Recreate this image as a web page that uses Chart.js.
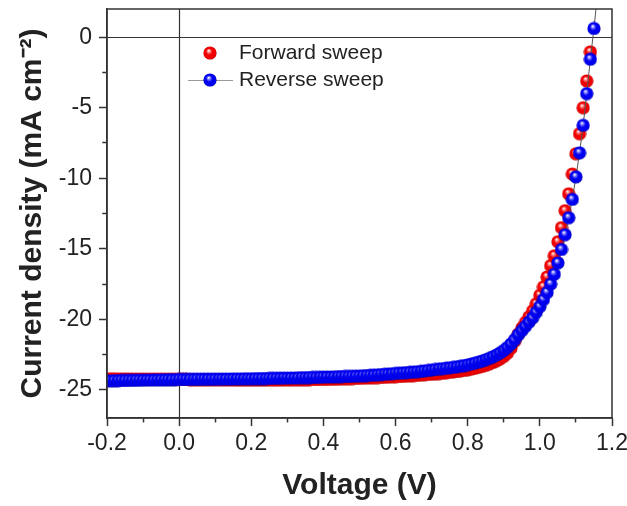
<!DOCTYPE html>
<html>
<head>
<meta charset="utf-8">
<script src="https://cdn.jsdelivr.net/npm/chart.js@4.4.1/dist/chart.umd.min.js"></script>
<style>
  html, body { margin: 0; padding: 0; background: #fff; }
  #wrap { width: 627px; height: 506px; }
</style>
</head>
<body>
<div id="wrap"><canvas id="jvChart" width="627" height="506"></canvas></div>
<script>
// Voltage grid (V)
const voltage = [
  -0.20, -0.19, -0.18, -0.17, -0.16, -0.15, -0.14, -0.13, -0.12, -0.11,
  -0.10, -0.09, -0.08, -0.07, -0.06, -0.05, -0.04, -0.03, -0.02, -0.01,
  0.00, 0.01, 0.02, 0.03, 0.04, 0.05, 0.06, 0.07, 0.08, 0.09,
  0.10, 0.11, 0.12, 0.13, 0.14, 0.15, 0.16, 0.17, 0.18, 0.19,
  0.20, 0.21, 0.22, 0.23, 0.24, 0.25, 0.26, 0.27, 0.28, 0.29,
  0.30, 0.31, 0.32, 0.33, 0.34, 0.35, 0.36, 0.37, 0.38, 0.39,
  0.40, 0.41, 0.42, 0.43, 0.44, 0.45, 0.46, 0.47, 0.48, 0.49,
  0.50, 0.51, 0.52, 0.53, 0.54, 0.55, 0.56, 0.57, 0.58, 0.59,
  0.60, 0.61, 0.62, 0.63, 0.64, 0.65, 0.66, 0.67, 0.68, 0.69,
  0.70, 0.71, 0.72, 0.73, 0.74, 0.75, 0.76, 0.77, 0.78, 0.79,
  0.80, 0.81, 0.82, 0.83, 0.84, 0.85, 0.86, 0.87, 0.88, 0.89,
  0.90, 0.91, 0.92, 0.93, 0.94, 0.95, 0.96, 0.97, 0.98, 0.99,
  1.00, 1.01, 1.02, 1.03, 1.04, 1.05, 1.06, 1.07, 1.08, 1.09,
  1.10, 1.11, 1.12, 1.13, 1.14, 1.15, 1.16
];

// Forward sweep current density (mA cm-2)
const forwardJ = [
  -24.22, -24.22, -24.22, -24.23, -24.23, -24.23, -24.23, -24.24, -24.24, -24.24,
  -24.24, -24.25, -24.25, -24.25, -24.25, -24.26, -24.26, -24.26, -24.26, -24.27,
  -24.27, -24.27, -24.27, -24.28, -24.28, -24.28, -24.28, -24.29, -24.29, -24.29,
  -24.29, -24.30, -24.30, -24.30, -24.30, -24.30, -24.31, -24.31, -24.31, -24.31,
  -24.31, -24.31, -24.31, -24.31, -24.31, -24.31, -24.31, -24.31, -24.30, -24.30,
  -24.30, -24.30, -24.29, -24.29, -24.29, -24.28, -24.28, -24.27, -24.27, -24.26,
  -24.26, -24.26, -24.25, -24.25, -24.24, -24.23, -24.22, -24.21, -24.20, -24.19,
  -24.18, -24.17, -24.16, -24.15, -24.14, -24.13, -24.12, -24.11, -24.09, -24.08,
  -24.06, -24.05, -24.04, -24.02, -24.01, -23.99, -23.97, -23.95, -23.93, -23.91,
  -23.89, -23.87, -23.85, -23.82, -23.79, -23.76, -23.73, -23.70, -23.66, -23.62,
  -23.58, -23.53, -23.47, -23.41, -23.34, -23.26, -23.17, -23.06, -22.94, -22.80,
  -22.63, -22.40, -22.05, -21.55, -21.05, -20.62, -20.22, -19.82, -19.40, -18.90,
  -18.30, -17.70, -17.00, -16.20, -15.50, -14.50, -13.50, -12.30, -11.10, -9.70,
  -8.26, -6.84, -5.00, -3.10, -1.04, null, null
];

// Reverse sweep current density (mA cm-2)
const reverseJ = [
  -24.36, -24.36, -24.35, -24.35, -24.34, -24.34, -24.33, -24.33, -24.32, -24.32,
  -24.31, -24.31, -24.30, -24.30, -24.30, -24.29, -24.29, -24.28, -24.28, -24.28,
  -24.27, -24.27, -24.27, -24.26, -24.26, -24.26, -24.26, -24.25, -24.25, -24.25,
  -24.25, -24.25, -24.24, -24.24, -24.24, -24.23, -24.23, -24.23, -24.22, -24.22,
  -24.22, -24.21, -24.21, -24.20, -24.20, -24.19, -24.19, -24.18, -24.18, -24.17,
  -24.17, -24.16, -24.16, -24.15, -24.14, -24.14, -24.13, -24.12, -24.12, -24.11,
  -24.10, -24.09, -24.09, -24.08, -24.07, -24.06, -24.05, -24.05, -24.04, -24.03,
  -24.02, -24.00, -23.99, -23.97, -23.96, -23.94, -23.92, -23.90, -23.88, -23.86,
  -23.84, -23.82, -23.80, -23.78, -23.76, -23.74, -23.72, -23.69, -23.66, -23.63,
  -23.60, -23.56, -23.53, -23.50, -23.47, -23.44, -23.41, -23.37, -23.33, -23.28,
  -23.23, -23.17, -23.11, -23.04, -22.96, -22.87, -22.77, -22.66, -22.53, -22.38,
  -22.21, -22.00, -21.75, -21.45, -21.10, -20.80, -20.50, -20.20, -19.90, -19.50,
  -19.10, -18.60, -18.10, -17.50, -16.80, -16.00, -15.05, -14.00, -12.80, -11.50,
  -9.90, -8.20, -6.25, -4.00, -1.56, 0.62, 3.10
];

const xMajorTicks = [-0.2, 0.0, 0.2, 0.4, 0.6, 0.8, 1.0, 1.2];
const xMinorTicks = [-0.1, 0.1, 0.3, 0.5, 0.7, 0.9, 1.1];
const xTickLabels = ['-0.2', '0.0', '0.2', '0.4', '0.6', '0.8', '1.0', '1.2'];
const yMajorTicks = [-25, -20, -15, -10, -5, 0];
const yMinorTicks = [-22.5, -17.5, -12.5, -7.5, -2.5];
const yTickLabels = ['-25', '-20', '-15', '-10', '-5', '0'];
const seriesNames = ['Forward sweep', 'Reverse sweep'];

const AXIS = '#333';

function makeSphere(light, base, dark) {
  const c = document.createElement('canvas');
  c.width = 14; c.height = 14;
  const g = c.getContext('2d');
  const grad = g.createRadialGradient(5.6, 4.6, 0.3, 7, 7, 7);
  grad.addColorStop(0, '#ffffff');
  grad.addColorStop(0.18, light);
  grad.addColorStop(0.45, base);
  grad.addColorStop(0.85, base);
  grad.addColorStop(1, dark);
  g.fillStyle = grad;
  g.beginPath();
  g.arc(7, 7, 6.6, 0, Math.PI * 2);
  g.fill();
  return c;
}

const redBall = makeSphere('#ff8080', '#f00000', '#a00000');
const blueBall = makeSphere('#8080ff', '#0000f0', '#00008c');

function toPoints(xs, ys) {
  const pts = [];
  xs.forEach((x, i) => { if (ys[i] !== null) pts.push({ x: x, y: ys[i] }); });
  return pts;
}

function isMinor(list, v) {
  return list.some((m) => Math.abs(m - v) < 1e-6);
}

// zero lines + frame + legend
const decorPlugin = {
  id: 'decor',
  beforeDatasetsDraw(chart) {
    const { ctx, chartArea: a, scales } = chart;
    const x0 = Math.round(scales.x.getPixelForValue(0)) + 0.5;
    const y0 = Math.round(scales.y.getPixelForValue(0)) + 0.5;
    ctx.save();
    ctx.strokeStyle = AXIS;
    ctx.lineWidth = 1.2;
    ctx.beginPath();
    ctx.moveTo(x0, a.top); ctx.lineTo(x0, a.bottom);
    ctx.moveTo(a.left, y0); ctx.lineTo(a.right, y0);
    ctx.stroke();
    ctx.restore();
  },
  afterDatasetsDraw(chart) {
    const { ctx, chartArea: a } = chart;
    ctx.save();
    ctx.strokeStyle = AXIS;
    ctx.lineWidth = 1.5;
    ctx.strokeRect(a.left, a.top, a.right - a.left, a.bottom - a.top);

    // legend
    ctx.font = '21px "Liberation Sans", Arial, sans-serif';
    ctx.fillStyle = '#222';
    ctx.textBaseline = 'middle';
    ctx.drawImage(redBall, 210 - 7, 53 - 7);
    ctx.fillText(seriesNames[0], 239, 53);
    ctx.strokeStyle = '#999';
    ctx.lineWidth = 1;
    ctx.beginPath();
    ctx.moveTo(188, 80.5); ctx.lineTo(233, 80.5);
    ctx.stroke();
    ctx.drawImage(blueBall, 210 - 7, 80 - 7);
    ctx.fillText(seriesNames[1], 239, 80);
    ctx.restore();
  }
};

const ctx = document.getElementById('jvChart').getContext('2d');

new Chart(ctx, {
  type: 'scatter',
  data: {
    datasets: [
      {
        label: seriesNames[0],
        data: toPoints(voltage, forwardJ),
        pointStyle: redBall,
        pointRadius: 6.5,
        pointHoverRadius: 6.5,
        showLine: false,
        order: 1
      },
      {
        label: seriesNames[1],
        data: toPoints(voltage, reverseJ),
        pointStyle: blueBall,
        pointRadius: 6.5,
        pointHoverRadius: 6.5,
        showLine: true,
        borderColor: '#555',
        borderWidth: 1,
        order: 0
      }
    ]
  },
  options: {
    responsive: false,
    animation: false,
    devicePixelRatio: 1,
    layout: { padding: { top: 9, right: 15, left: 0, bottom: 0 } },
    plugins: {
      legend: { display: false },
      tooltip: { enabled: false }
    },
    scales: {
      x: {
        type: 'linear',
        min: -0.2,
        max: 1.2,
        afterBuildTicks(scale) {
          scale.ticks = xMajorTicks.concat(xMinorTicks).sort((a, b) => a - b).map((v) => ({ value: v }));
        },
        afterFit(scale) {
          scale.height = 88;
          scale.paddingLeft = 0;
          scale.paddingRight = 0;
        },
        border: { display: true, color: AXIS, width: 1.5 },
        grid: {
          drawOnChartArea: false,
          drawTicks: true,
          tickLength: 8,
          tickColor: AXIS,
          tickWidth: 1.5,
          tickBorderDash: (c) => (c.tick && isMinor(xMinorTicks, c.tick.value) ? [4, 20] : []),
        },
        ticks: {
          autoSkip: false,
          maxRotation: 0,
          padding: 4,
          color: '#222',
          font: { family: '"Liberation Sans", Arial, sans-serif', size: 23 },
          callback: (v) => {
            const i = xMajorTicks.findIndex((m) => Math.abs(m - v) < 1e-6);
            return i >= 0 ? xTickLabels[i] : '';
          }
        },
        title: {
          display: true,
          text: 'Voltage (V)',
          color: '#222',
          font: { family: '"Liberation Sans", Arial, sans-serif', size: 30, weight: 'bold' },
          padding: { top: 0, bottom: 2 }
        }
      },
      y: {
        type: 'linear',
        min: -27,
        max: 2,
        afterBuildTicks(scale) {
          scale.ticks = yMajorTicks.concat(yMinorTicks).sort((a, b) => a - b).map((v) => ({ value: v }));
        },
        afterFit(scale) {
          scale.width = 107;
          scale.paddingTop = 0;
          scale.paddingBottom = 0;
        },
        border: { display: true, color: AXIS, width: 1.5 },
        grid: {
          drawOnChartArea: false,
          drawTicks: true,
          tickLength: 8,
          tickColor: AXIS,
          tickWidth: 1.5,
          tickBorderDash: (c) => (c.tick && isMinor(yMinorTicks, c.tick.value) ? [4, 3.25] : []),
          tickBorderDashOffset: (c) => (c.tick && isMinor(yMinorTicks, c.tick.value) ? 4 : 0),
        },
        ticks: {
          autoSkip: false,
          padding: 7,
          color: '#222',
          font: { family: '"Liberation Sans", Arial, sans-serif', size: 23 },
          callback: (v) => {
            const i = yMajorTicks.findIndex((m) => Math.abs(m - v) < 1e-6);
            return i >= 0 ? yTickLabels[i] : '';
          }
        },
        title: {
          display: true,
          text: 'Current density (mA cm\u207B\u00B2)',
          color: '#222',
          font: { family: '"Liberation Sans", Arial, sans-serif', size: 30, weight: 'bold' },
          padding: { top: 15, bottom: 0 }
        }
      }
    }
  },
  plugins: [decorPlugin]
});
</script>
</body>
</html>
